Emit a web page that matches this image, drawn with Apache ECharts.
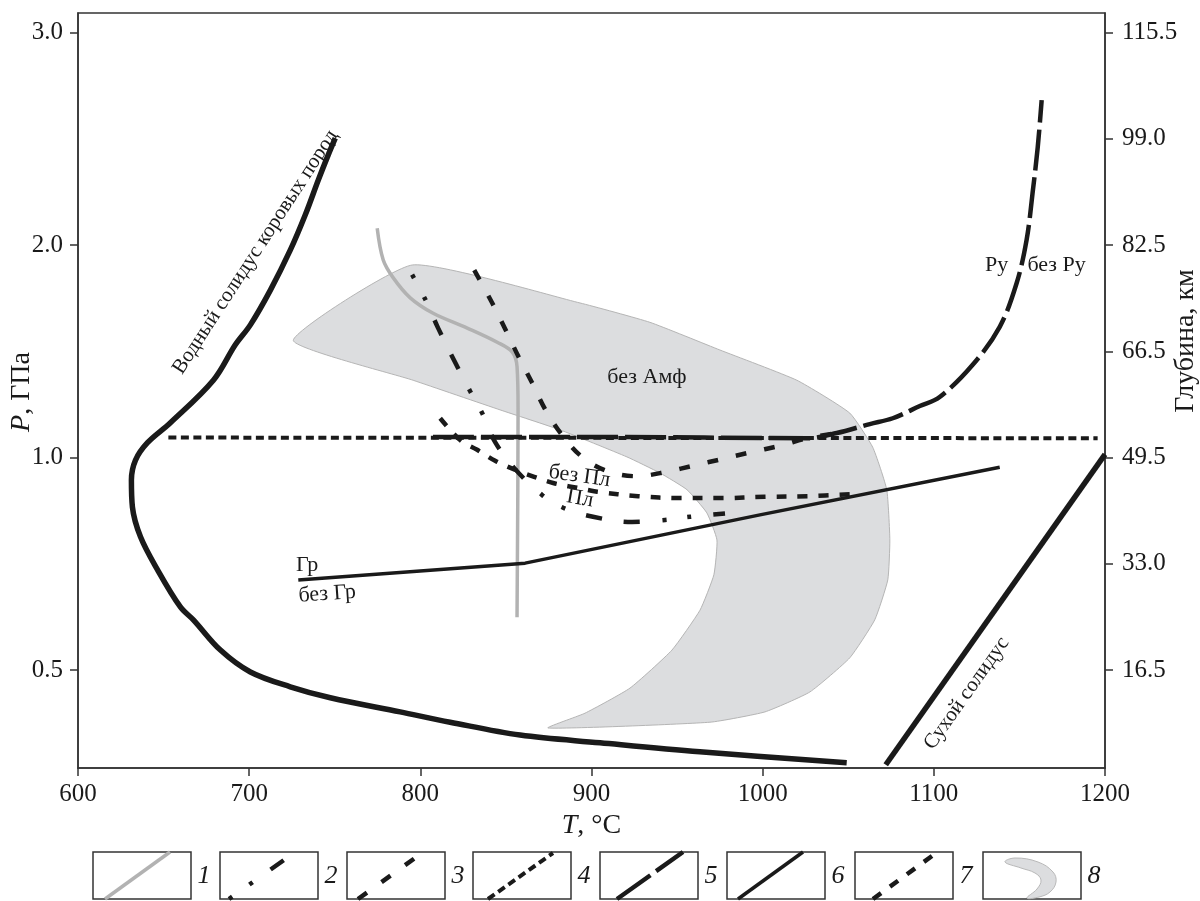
<!DOCTYPE html>
<html>
<head>
<meta charset="utf-8">
<script src="https://cdn.jsdelivr.net/npm/echarts@6/dist/echarts.min.js"></script>
<style>
  html, body { margin: 0; padding: 0; background: #fff; }
  #chart { width: 1200px; height: 901px; }
</style>
</head>
<body>
<div id="chart"></div>
<script>
// Axis ticks: temperature (°C), pressure labels (left) and depth labels (right), placed on a depth scale in km
const tempTicks = [600, 700, 800, 900, 1000, 1100, 1200];
const pressureTickDepths = [16.5, 49.5, 82.5, 115.5];
const pressureTickLabels = ['0.5', '1.0', '2.0', '3.0'];
const depthTickValues = [16.5, 33.0, 49.5, 66.0, 82.5, 99.0, 115.5];
const depthTickLabels = ['16.5', '33.0', '49.5', '66.5', '82.5', '99.0', '115.5'];

// Curves as [T °C, depth km]
const wetSolidus = [
  [750.3, 99.1], [746.2, 96.5], [740.4, 92.6], [732.8, 87.2], [724.0, 81.7],
  [712.4, 75.5], [700.7, 70.1], [691.9, 67.0], [679.1, 61.5], [654.0, 54.9],
  [640.6, 51.8], [633.6, 49.1], [631.2, 46.0], [631.8, 41.8], [636.5, 37.2],
  [646.4, 32.1], [659.8, 26.3], [667.4, 24.3], [683.2, 19.6], [700.7, 16.2],
  [724.0, 13.9], [747.4, 12.2], [788.2, 10.0], [817.4, 8.4], [858.3, 6.4],
  [905.0, 5.2], [963.3, 3.8], [1049.1, 2.1]
];
const drySolidus = [[1071.9, 1.8], [1200.0, 50.0]];

// 1 — grey curve
const curve1 = [
  [774.8, 85.1], [778.3, 80.2], [784.2, 77.4], [794.1, 74.3], [807.5, 71.9],
  [827.4, 69.6], [844.9, 67.4], [853.6, 65.9], [856.5, 63.6], [857.1, 56.9],
  [856.5, 24.7]
];
// 2 — dot-dot-dash curve
const curve2 = [
  [795.2, 77.9], [802.8, 74.1], [810.4, 69.6], [820.3, 64.3], [829.1, 59.8],
  [836.1, 56.4], [843.7, 51.9], [855.4, 47.7], [871.1, 43.7], [883.4, 41.7],
  [900.9, 40.3], [923.7, 39.5], [943.0, 39.8], [957.5, 40.3], [978.0, 40.8]
];
// 3 — sparse dashed curve (без Пл)
const curve3 = [
  [831.5, 78.6], [842.0, 73.5], [849.5, 69.5], [857.1, 65.3], [865.3, 61.1],
  [872.9, 57.0], [882.8, 53.0], [894.5, 49.6], [909.1, 47.4], [926.6, 46.6],
  [944.1, 47.3], [960.4, 48.3], [976.8, 49.3], [994.3, 50.4], [1011.2, 51.4],
  [1025.8, 52.5], [1043.3, 53.3]
];
// 4 — dense dotted line
const curve4 = [[652.8, 52.6], [1195.7, 52.5]];
// 5 — long-dashed curve (Ру / без Ру)
const curve5 = [
  [807.4, 52.7], [905.0, 52.7], [1025.8, 52.5], [1043.3, 53.3], [1062.6, 54.7],
  [1076.0, 55.6], [1091.8, 57.5], [1103.4, 58.9], [1122.7, 63.9], [1138.5, 69.8],
  [1148.4, 76.6], [1154.2, 83.3], [1157.7, 90.6], [1160.7, 97.7], [1163.0, 105.0]
];
// 6 — solid line (Гр / без Гр)
const curve6 = [[728.7, 30.5], [861.2, 33.1], [998.4, 40.6], [1138.5, 48.0]];
// 7 — short-dashed curve (Пл)
const curve7 = [
  [811.6, 55.6], [823.3, 52.2], [833.2, 50.7], [843.7, 49.0], [855.4, 47.6],
  [866.5, 46.5], [877.6, 45.55], [891.6, 44.8], [903.3, 44.2], [927.2, 43.5],
  [951.7, 43.2], [976.8, 43.2], [1001.3, 43.4], [1026.4, 43.5], [1052.1, 43.8]
];
// 8 — field without amphibole
const amphField = [
  [725.8, 67.7], [795.8, 61.5], [846.6, 56.9], [881.6, 53.8], [920.7, 49.6],
  [940.0, 47.1], [955.8, 44.5], [967.4, 40.9], [973.3, 36.7], [971.5, 31.3],
  [963.4, 25.8], [947.0, 19.6], [922.5, 13.7], [896.2, 9.8], [874.6, 7.5],
  [969.2, 8.4], [1001.3, 10.0], [1027.6, 13.1], [1050.9, 18.4], [1065.5, 24.3],
  [1073.1, 30.5], [1074.3, 36.7], [1072.5, 44.5], [1064.3, 51.1], [1050.9, 56.4],
  [1020.0, 61.5], [975.0, 66.2], [934.1, 70.5], [893.3, 73.5], [795.3, 79.4]
];

// Text annotations anchored in [T, depth]
const annotations = [
  { text: 'без Амф', at: [932.4, 61.9], angle: 0, size: 22 },
  { text: 'без Пл', at: [893.0, 46.6], angle: -8, size: 22 },
  { text: 'Пл', at: [893.3, 43.1], angle: -10, size: 22 },
  { text: 'Гр', at: [733.9, 32.8], angle: 0, size: 22 },
  { text: 'без Гр', at: [745.6, 28.3], angle: 4, size: 22 },
  { text: 'Ру', at: [1136.7, 79.4], angle: 0, size: 22 },
  { text: 'без Ру', at: [1171.7, 79.4], angle: 0, size: 22 },
  { text: 'Водный солидус коровых пород', at: [703.6, 81.4], angle: 57, size: 21 },
  { text: 'Сухой солидус', at: [1119.2, 12.9], angle: 54.7, size: 21 }
];

const legendNumbers = ['1', '2', '3', '4', '5', '6', '7', '8'];

const SERIF = '"Liberation Serif", "DejaVu Serif", serif';
const INK = '#1a1a1a';
const TICK_FONT = 25;
const TITLE_FONT = 28;

// line styles for the numbered curves
const styles = {
  c1: { color: '#b2b2b2', width: 3.5, type: 'solid' },
  c2: { color: INK, width: 4.5, type: [4, 21, 4, 22, 16, 22, 16, 23] },
  c3: { color: INK, width: 4.5, type: [11, 18] },
  c4: { color: INK, width: 4, type: [8, 4.5] },
  c5: { color: INK, width: 4.5, type: [41, 7] },
  c6: { color: INK, width: 3.5, type: 'solid' },
  c7: { color: INK, width: 4.5, type: [10, 11] }
};

function lineSeries(name, data, ls, smooth, z) {
  return {
    name: name,
    type: 'line',
    data: data,
    symbol: 'none',
    smooth: smooth,
    clip: true,
    silent: true,
    z: z || 3,
    lineStyle: { color: ls.color, width: ls.width, type: ls.type, cap: 'butt', join: 'round' }
  };
}

const chart = echarts.init(document.getElementById('chart'), null, { renderer: 'canvas' });

const yMin = 1.29, yMax = 118.53;

function labelFor(values, labels) {
  return function (v) {
    const i = values.findIndex(function (d) { return Math.abs(d - v) < 1e-6; });
    return i >= 0 ? labels[i] : '';
  };
}

// legend boxes along the bottom
const boxX = [93, 220, 347, 473, 600, 727, 855, 983];
const boxW = 98, boxY = 852, boxH = 47;
const graphics = [];
const sampleStyles = [styles.c1, styles.c2, styles.c3, styles.c4, styles.c5, styles.c6, styles.c7];
const sampleRuns = [
  [12, 47, 77, 0], [9, 47, 64, 8], [11, 47, 68, 6], [15, 47, 80, 1],
  [17, 47, 83, 0], [11, 47, 76, 0], [18, 47, 77, 4]
];
boxX.forEach(function (x, i) {
  graphics.push({
    type: 'rect', shape: { x: x, y: boxY, width: boxW, height: boxH },
    style: { fill: '#fff', stroke: '#333', lineWidth: 1.5 }, z: 10
  });
  if (i < 7) {
    const r = sampleRuns[i];
    const s = sampleStyles[i];
    graphics.push({
      type: 'line',
      shape: { x1: x + r[0], y1: boxY + r[1], x2: x + r[2], y2: boxY + r[3] },
      style: {
        stroke: s.color, lineWidth: s.width,
        lineDash: Array.isArray(s.type) ? s.type : null, lineCap: 'butt'
      },
      z: 11
    });
  } else {
    graphics.push({
      type: 'polygon',
      shape: {
        smooth: 0.4,
        points: [
          [x + 22, boxY + 10], [x + 32, boxY + 6], [x + 55, boxY + 10], [x + 70, boxY + 20],
          [x + 73, boxY + 30], [x + 67, boxY + 40], [x + 56, boxY + 45], [x + 44, boxY + 46],
          [x + 54, boxY + 37], [x + 58, boxY + 28], [x + 52, boxY + 21], [x + 38, boxY + 16]
        ]
      },
      style: { fill: '#dcdddf', stroke: '#b9b9b9', lineWidth: 1 },
      z: 11
    });
  }
  graphics.push({
    type: 'text', x: x + boxW + 13, y: boxY + 24,
    style: {
      text: legendNumbers[i], fill: INK, fontFamily: SERIF, fontSize: 26,
      fontStyle: 'italic', align: 'center', verticalAlign: 'middle'
    },
    z: 11
  });
});

// vertical axis titles, both reading upwards
graphics.push({
  type: 'text', x: 22, y: 392, rotation: Math.PI / 2,
  style: {
    text: '{i|P}, ГПа', fill: INK, fontFamily: SERIF, fontSize: TITLE_FONT,
    align: 'center', verticalAlign: 'middle',
    rich: { i: { fontFamily: SERIF, fontSize: TITLE_FONT, fontStyle: 'italic', fill: INK } }
  },
  z: 11
});
graphics.push({
  type: 'text', x: 1186, y: 341, rotation: Math.PI / 2,
  style: { text: 'Глубина, км', fill: INK, fontFamily: SERIF, fontSize: TITLE_FONT, align: 'center', verticalAlign: 'middle' },
  z: 11
});

const option = {
  animation: false,
  backgroundColor: '#fff',
  grid: {
    left: 78, right: 95, top: 13, bottom: 133,
    containLabel: false, outerBoundsMode: 'none',
    show: true, borderColor: '#333', borderWidth: 1.5, backgroundColor: 'transparent'
  },
  xAxis: {
    type: 'value', min: tempTicks[0], max: tempTicks[tempTicks.length - 1], interval: 100,
    axisLine: { show: true, lineStyle: { color: '#333', width: 1.5 } },
    axisTick: { show: true, inside: false, length: 8, lineStyle: { color: '#333', width: 1.5 } },
    axisLabel: {
      fontFamily: SERIF, fontSize: TICK_FONT, color: INK, margin: 14, showMinLabel: true, showMaxLabel: true,
      formatter: function (v) { return String(v); }
    },
    splitLine: { show: false },
    name: '{i|T}, °C', nameLocation: 'middle', nameGap: 42,
    nameTextStyle: { fontFamily: SERIF, fontSize: TITLE_FONT, color: INK, rich: { i: { fontFamily: SERIF, fontSize: TITLE_FONT, fontStyle: 'italic', color: INK } } }
  },
  yAxis: [
    {
      type: 'value', position: 'left', min: yMin, max: yMax,
      axisLine: { show: true, lineStyle: { color: '#333', width: 1.5 } },
      axisTick: { show: true, inside: false, length: 8, customValues: pressureTickDepths, lineStyle: { color: '#333', width: 1.5 } },
      axisLabel: { customValues: pressureTickDepths, formatter: labelFor(pressureTickDepths, pressureTickLabels), fontFamily: SERIF, fontSize: TICK_FONT, color: INK, margin: 15 },
      splitLine: { show: false }
    },
    {
      type: 'value', position: 'right', min: yMin, max: yMax,
      axisLine: { show: true, lineStyle: { color: '#333', width: 1.5 } },
      axisTick: { show: true, inside: false, length: 8, customValues: depthTickValues, lineStyle: { color: '#333', width: 1.5 } },
      axisLabel: { customValues: depthTickValues, formatter: labelFor(depthTickValues, depthTickLabels), fontFamily: SERIF, fontSize: TICK_FONT, color: INK, margin: 17 },
      splitLine: { show: false }
    }
  ],
  graphic: graphics,
  series: [
    {
      name: 'без Амф',
      type: 'custom',
      coordinateSystem: 'cartesian2d',
      silent: true,
      clip: true,
      z: 1,
      data: [amphField[0]],
      renderItem: function (params, api) {
        const pts = amphField.map(function (p) { return api.coord(p); });
        return {
          type: 'polygon',
          shape: { points: pts, smooth: 0.15 },
          style: { fill: '#dcdddf', stroke: '#b5b5b5', lineWidth: 1 }
        };
      }
    },
    lineSeries('1', curve1, styles.c1, 0.35, 2),
    lineSeries('4', curve4, styles.c4, false, 3),
    lineSeries('5', curve5, styles.c5, 0.35, 4),
    lineSeries('2', curve2, styles.c2, 0.35, 4),
    lineSeries('3', curve3, styles.c3, 0.35, 4),
    lineSeries('7', curve7, styles.c7, 0.35, 4),
    lineSeries('6', curve6, styles.c6, false, 4),
    lineSeries('wet solidus', wetSolidus, { color: INK, width: 5.5, type: 'solid' }, 0.35, 5),
    lineSeries('dry solidus', drySolidus, { color: INK, width: 5.5, type: 'solid' }, false, 5),
    {
      name: 'labels',
      type: 'custom',
      coordinateSystem: 'cartesian2d',
      silent: true,
      clip: false,
      z: 6,
      data: annotations.map(function (a) { return a.at; }),
      renderItem: function (params, api) {
        const a = annotations[params.dataIndex];
        const p = api.coord(a.at);
        return {
          type: 'text',
          x: p[0], y: p[1],
          rotation: a.angle * Math.PI / 180,
          style: {
            text: a.text, fill: INK, fontFamily: SERIF, fontSize: a.size,
            align: 'center', verticalAlign: 'middle'
          }
        };
      }
    }
  ]
};

chart.setOption(option);
</script>
</body>
</html>
